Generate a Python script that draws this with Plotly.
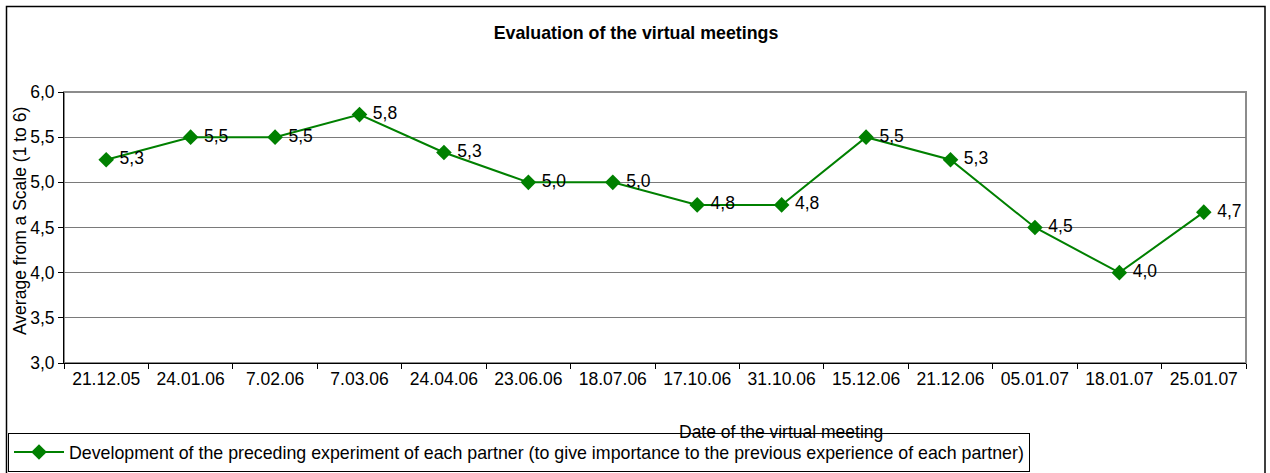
import math
import plotly.graph_objects as go

# ---- data ----
dates = ["21.12.05", "24.01.06", "7.02.06", "7.03.06", "24.04.06", "23.06.06", "18.07.06",
         "17.10.06", "31.10.06", "15.12.06", "21.12.06", "05.01.07", "18.01.07", "25.01.07"]
averages = [5.25, 5.5, 5.5, 5.75, 5.33, 5.0, 5.0, 4.75, 4.75, 5.5, 5.25, 4.5, 4.0, 4.67]
series_name = ("Development of the preceding experiment of each partner "
               "(to give importance to the previous experience of each partner)")
y_ticks = [3.0, 3.5, 4.0, 4.5, 5.0, 5.5, 6.0]

def half_up(v):
    return math.floor(v * 10 + 0.5) / 10

labels = ["\u00a0" + f"{half_up(v):.1f}".replace(".", ",") for v in averages]
y_tick_text = [f"{t:.1f}".replace(".", ",") for t in y_ticks]

# ---- layout geometry (pixels) ----
W, H = 1270, 473
L, R, T, B = 64, 24, 92, 110
PW, PH = W - L - R, H - T - B

def px(xp):
    return (xp - L) / PW

def py(yp):
    return (H - B - yp) / PH

FONT = "Liberation Sans, Arial, sans-serif"
FS = 17.5
GREEN = "#008000"

fig = go.Figure()
fig.add_trace(go.Scatter(
    x=dates, y=averages, mode="lines+markers+text",
    name=series_name,
    line=dict(color=GREEN, width=2),
    marker=dict(symbol="diamond", size=12, color=GREEN),
    text=labels, textposition="middle right",
    textfont=dict(family=FONT, size=FS, color="black"),
    cliponaxis=False,
))

fig.update_layout(
    width=W, height=H,
    margin=dict(l=L, r=R, t=T, b=B, autoexpand=False),
    paper_bgcolor="white", plot_bgcolor="white",
    font=dict(family=FONT, size=FS, color="black"),
    title=dict(text="<b>Evaluation of the virtual meetings</b>",
               x=px(636), xref="paper", xanchor="center", y=1 - 33 / H, yanchor="middle",
               font=dict(family=FONT, size=17.8, color="black")),
    showlegend=True,
    legend=dict(orientation="h", x=px(8), y=py(472), xanchor="left", yanchor="bottom",
                bordercolor="black", borderwidth=1, bgcolor="white",
                itemwidth=50,
                font=dict(family=FONT, size=17.8, color="black")),
    xaxis=dict(type="category", range=[-0.5, len(dates) - 0.5],
               tickson="boundaries", ticks="outside", ticklen=5,
               tickcolor="black", showline=True, linecolor="black", linewidth=1,
               showgrid=False, tickfont=dict(size=FS), automargin=False),
    yaxis=dict(range=[3, 6], tickvals=y_ticks, ticktext=y_tick_text, ticks="outside",
               ticklen=5, tickcolor="black", showline=True, linecolor="black", linewidth=1,
               showgrid=True, gridcolor="#7a7a7a", gridwidth=1, zeroline=False,
               tickfont=dict(size=FS), automargin=False),
    shapes=[
        # plot-area frame
        dict(type="rect", xref="paper", yref="paper", x0=0, x1=1, y0=0, y1=1,
             line=dict(color="#8c8c8c", width=2), layer="below"),
        # outer chart frame
        dict(type="rect", xref="paper", yref="paper", x0=px(6.5), x1=px(1265), y0=py(6.5), y1=py(480),
             line=dict(color="black", width=1.5)),
    ],
    annotations=[
        dict(text="Date of the virtual meeting", xref="paper", yref="paper",
             x=px(781), y=py(432), xanchor="center", yanchor="middle", showarrow=False,
             font=dict(family=FONT, size=FS, color="black")),
        dict(text="Average from a Scale (1 to 6)", xref="paper", yref="paper",
             x=px(20), y=py(221), xanchor="center", yanchor="middle", showarrow=False,
             textangle=-90, font=dict(family=FONT, size=FS, color="black")),
    ],
)

fig.write_html(
    "out.html",
    config={"displayModeBar": False, "staticPlot": True},
    post_script="document.body.style.margin='0';document.body.style.overflow='hidden';",
)
